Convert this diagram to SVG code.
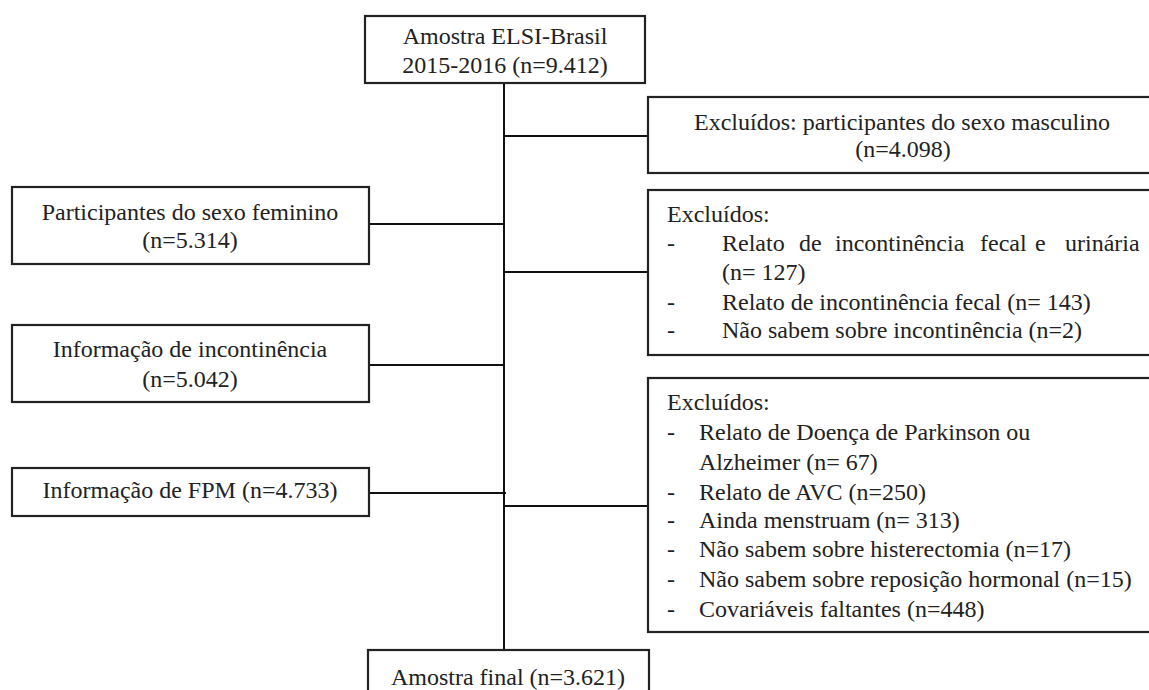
<svg xmlns="http://www.w3.org/2000/svg" width="1149" height="690" viewBox="0 0 1149 690">
<style>
.box{fill:#fff;stroke:#222;stroke-width:2.2}
.ln{stroke:#111;stroke-width:2;fill:none}
.t{font-family:'Liberation Serif','Times New Roman',Tinos,'DejaVu Serif',serif;font-size:24px;fill:#222}
.c{text-anchor:middle}
</style>
<rect width="1149" height="690" fill="#fff"/>
<g id="connectors">
<line class="ln" x1="504" y1="83" x2="504" y2="650"/>
<line class="ln" x1="504" y1="136" x2="648" y2="136"/>
<line class="ln" x1="369" y1="224" x2="504" y2="224"/>
<line class="ln" x1="504" y1="272" x2="648" y2="272"/>
<line class="ln" x1="369" y1="365" x2="504" y2="365"/>
<line class="ln" x1="369" y1="493" x2="506" y2="493"/>
<line class="ln" x1="504" y1="506" x2="648" y2="506"/>
</g>
<g class="t" font-family="Liberation Serif, serif">
<g id="n-top">
<rect class="box" x="365" y="16" width="280" height="67"/>
<text class="c" x="505" y="44">Amostra ELSI-Brasil</text>
<text class="c" x="505" y="73">2015-2016 (n=9.412)</text>
</g>
<g id="n-excl-masc">
<rect class="box" x="648" y="97" width="520" height="76"/>
<text class="c" x="902" y="130">Excluídos: participantes do sexo masculino</text>
<text class="c" x="903" y="157">(n=4.098)</text>
</g>
<g id="n-fem">
<rect class="box" x="12" y="187" width="357" height="77"/>
<text class="c" x="190" y="220">Participantes do sexo feminino</text>
<text class="c" x="190" y="248">(n=5.314)</text>
</g>
<g id="n-excl-incont">
<rect class="box" x="648" y="190" width="520" height="165"/>
<text x="667" y="222">Excluídos:</text>
<text x="667" y="251">-</text>
<text y="251"><tspan x="722">Relato</tspan><tspan x="799">de</tspan><tspan x="835">incontinência</tspan><tspan x="980">fecal</tspan><tspan x="1035">e</tspan><tspan x="1065">urinária</tspan></text>
<text x="722" y="280">(n= 127)</text>
<text x="667" y="310">-</text>
<text x="722" y="310">Relato de incontinência fecal (n= 143)</text>
<text x="667" y="338">-</text>
<text x="722" y="338">Não sabem sobre incontinência (n=2)</text>
</g>
<g id="n-incont">
<rect class="box" x="12" y="325" width="357" height="77"/>
<text class="c" x="190" y="357">Informação de incontinência</text>
<text class="c" x="190" y="387">(n=5.042)</text>
</g>
<g id="n-excl-other">
<rect class="box" x="648" y="378" width="520" height="254"/>
<text x="667" y="410">Excluídos:</text>
<text x="667" y="440">-</text>
<text x="699" y="440">Relato de Doença de Parkinson ou</text>
<text x="699" y="470">Alzheimer (n= 67)</text>
<text x="667" y="500">-</text>
<text x="699" y="500">Relato de AVC (n=250)</text>
<text x="667" y="528">-</text>
<text x="699" y="528">Ainda menstruam (n= 313)</text>
<text x="667" y="557">-</text>
<text x="699" y="557">Não sabem sobre histerectomia (n=17)</text>
<text x="667" y="587">-</text>
<text x="699" y="587">Não sabem sobre reposição hormonal (n=15)</text>
<text x="667" y="617">-</text>
<text x="699" y="617">Covariáveis faltantes (n=448)</text>
</g>
<g id="n-fpm">
<rect class="box" x="12" y="468" width="357" height="48"/>
<text class="c" x="190" y="498">Informação de FPM (n=4.733)</text>
</g>
<g id="n-final">
<rect class="box" x="368" y="650" width="281" height="60"/>
<text class="c" x="508" y="685">Amostra final (n=3.621)</text>
</g>
</g>
</svg>
